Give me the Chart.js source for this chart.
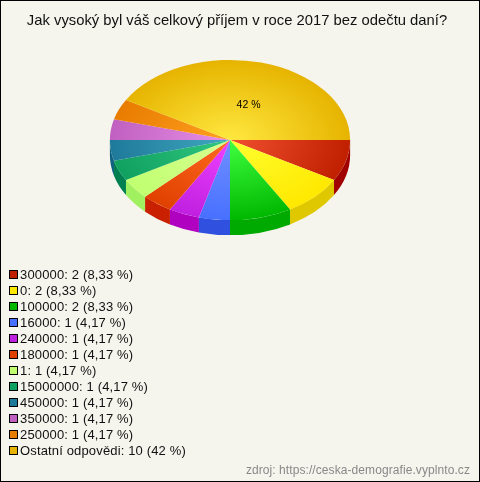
<!DOCTYPE html>
<html>
<head>
<meta charset="utf-8">
<script src="https://cdn.jsdelivr.net/npm/chart.js@4"></script>
<style>
  html, body { margin: 0; padding: 0; }
  #page { position: relative; width: 480px; height: 482px; box-sizing: border-box; border: 1px solid #000; background: #f5f5ee; overflow: hidden; font-family: "Liberation Sans", Arial, sans-serif; }
  #myChart { position: absolute; left: -1px; top: -1px; }
  #legend { position: absolute; left: 8px; top: 266px; font-size: 13px; letter-spacing: 0.15px; color: #111; }
  .row { height: 16px; line-height: 16px; white-space: nowrap; }
  .box { display: inline-block; width: 7px; height: 7px; border: 1px solid #000; margin-right: 2px; vertical-align: 0px; }
  #source { position: absolute; right: 9px; top: 462px; font-size: 12px; letter-spacing: 0.08px; color: #888; }
</style>
</head>
<body>
<div id="page">
  <canvas id="myChart" width="480" height="482"></canvas>
  <div id="legend"></div>
  <div id="source">zdroj: https://ceska-demografie.vyplnto.cz</div>
</div>
<script>
const titleText = "Jak vysoký byl váš celkový příjem v roce 2017 bez odečtu daní?";
const categories = ["300000", "0", "100000", "16000", "240000", "180000", "1", "15000000", "450000", "350000", "250000", "Ostatní odpovědi"];
const counts = [2, 2, 2, 1, 1, 1, 1, 1, 1, 1, 1, 10];
const shares = ["8,33 %", "8,33 %", "8,33 %", "4,17 %", "4,17 %", "4,17 %", "4,17 %", "4,17 %", "4,17 %", "4,17 %", "4,17 %", "42 %"];
const sliceLabels = ["", "", "", "", "", "", "", "", "", "", "", "42 %"];

const outerColors = ["#c02000", "#ffe800", "#00b800", "#4870ff", "#c020e0", "#e04000", "#c0ff70", "#10a060", "#1f7a9a", "#c060c0", "#e87c00", "#e6b400"];
const innerColors = ["#f05030", "#ffff30", "#40ff40", "#7090ff", "#f040ff", "#ff6a20", "#d8ff90", "#30c880", "#40a8c0", "#e890e8", "#ffa020", "#ffe840"];
const wallColors = ["#a00000", "#e0c800", "#00aa00", "#3050e0", "#b000c0", "#c82000", "#a0f060", "#008050", "#106080", "#9040a0", "#c06000", "#c09000"];

// the pie is drawn flat by Chart.js and then squashed into an ellipse
const squash = 0.667;
const depth = 15;
const pieX = 230;
const pieY = 140;

function sliceFill(context) {
  let area = context.chart.chartArea;
  if (!area) return outerColors[context.dataIndex];
  let x = (area.left + area.right) / 2;
  let y = (area.top + area.bottom) / 2;
  let gradient = context.chart.ctx.createRadialGradient(x, y, 0, x, y, 120);
  gradient.addColorStop(0, innerColors[context.dataIndex]);
  gradient.addColorStop(1, outerColors[context.dataIndex]);
  return gradient;
}

const pie3d = {
  id: "pie3d",
  beforeDatasetsDraw(chart) {
    let ctx = chart.ctx;
    let arcs = chart.getDatasetMeta(0).data;
    ctx.save();
    arcs.forEach((arc, i) => {
      let start = Math.max(arc.startAngle, 0);
      let end = Math.min(arc.endAngle, Math.PI);
      if (end <= start) return;
      let rx = arc.outerRadius;
      let ry = rx * squash;
      ctx.beginPath();
      ctx.ellipse(pieX, pieY, rx, ry, 0, start, end);
      ctx.ellipse(pieX, pieY + depth, rx, ry, 0, end, start, true);
      ctx.closePath();
      ctx.fillStyle = wallColors[i];
      ctx.fill();
    });
    ctx.restore();
    let first = arcs[0];
    ctx.save();
    ctx.translate(pieX, pieY);
    ctx.scale(1, squash);
    ctx.translate(-first.x, -first.y);
  },
  afterDatasetsDraw(chart) {
    let ctx = chart.ctx;
    ctx.restore();
    let arcs = chart.getDatasetMeta(0).data;
    ctx.save();
    ctx.font = "10.5px 'Liberation Sans', Arial, sans-serif";
    ctx.fillStyle = "#000";
    ctx.textAlign = "center";
    ctx.textBaseline = "middle";
    arcs.forEach((arc, i) => {
      if (!sliceLabels[i]) return;
      let p = arc.getCenterPoint();
      let x = pieX + (p.x - arc.x) + 3;
      let y = pieY + (p.y - arc.y) * squash + 4;
      ctx.fillText(sliceLabels[i], x, y);
    });
    ctx.restore();
  },
};

let legendDiv = document.getElementById("legend");
categories.forEach((name, i) => {
  let row = document.createElement("div");
  row.className = "row";
  let box = document.createElement("span");
  box.className = "box";
  box.style.background = outerColors[i];
  row.appendChild(box);
  row.appendChild(document.createTextNode(name + ": " + counts[i] + " (" + shares[i] + ")"));
  legendDiv.appendChild(row);
});

const config = {
  type: "pie",
  data: {
    labels: categories,
    datasets: [
      {
        data: counts,
        backgroundColor: sliceFill,
        borderWidth: 0,
      },
    ],
  },
  options: {
    responsive: false,
    animation: false,
    rotation: 90,
    // left/right padding keeps the title centred where the reference has it
    layout: { padding: { left: 0, right: 6, top: 0, bottom: 212 } },
    plugins: {
      legend: { display: false },
      tooltip: { enabled: false },
      title: {
        display: true,
        text: titleText,
        color: "#111",
        font: { family: "'Liberation Sans', Arial, sans-serif", size: 14.8, weight: "normal" },
        padding: { top: 12, bottom: 0 },
      },
    },
  },
  plugins: [pie3d],
};

new Chart(document.getElementById("myChart"), config);
</script>
</body>
</html>
